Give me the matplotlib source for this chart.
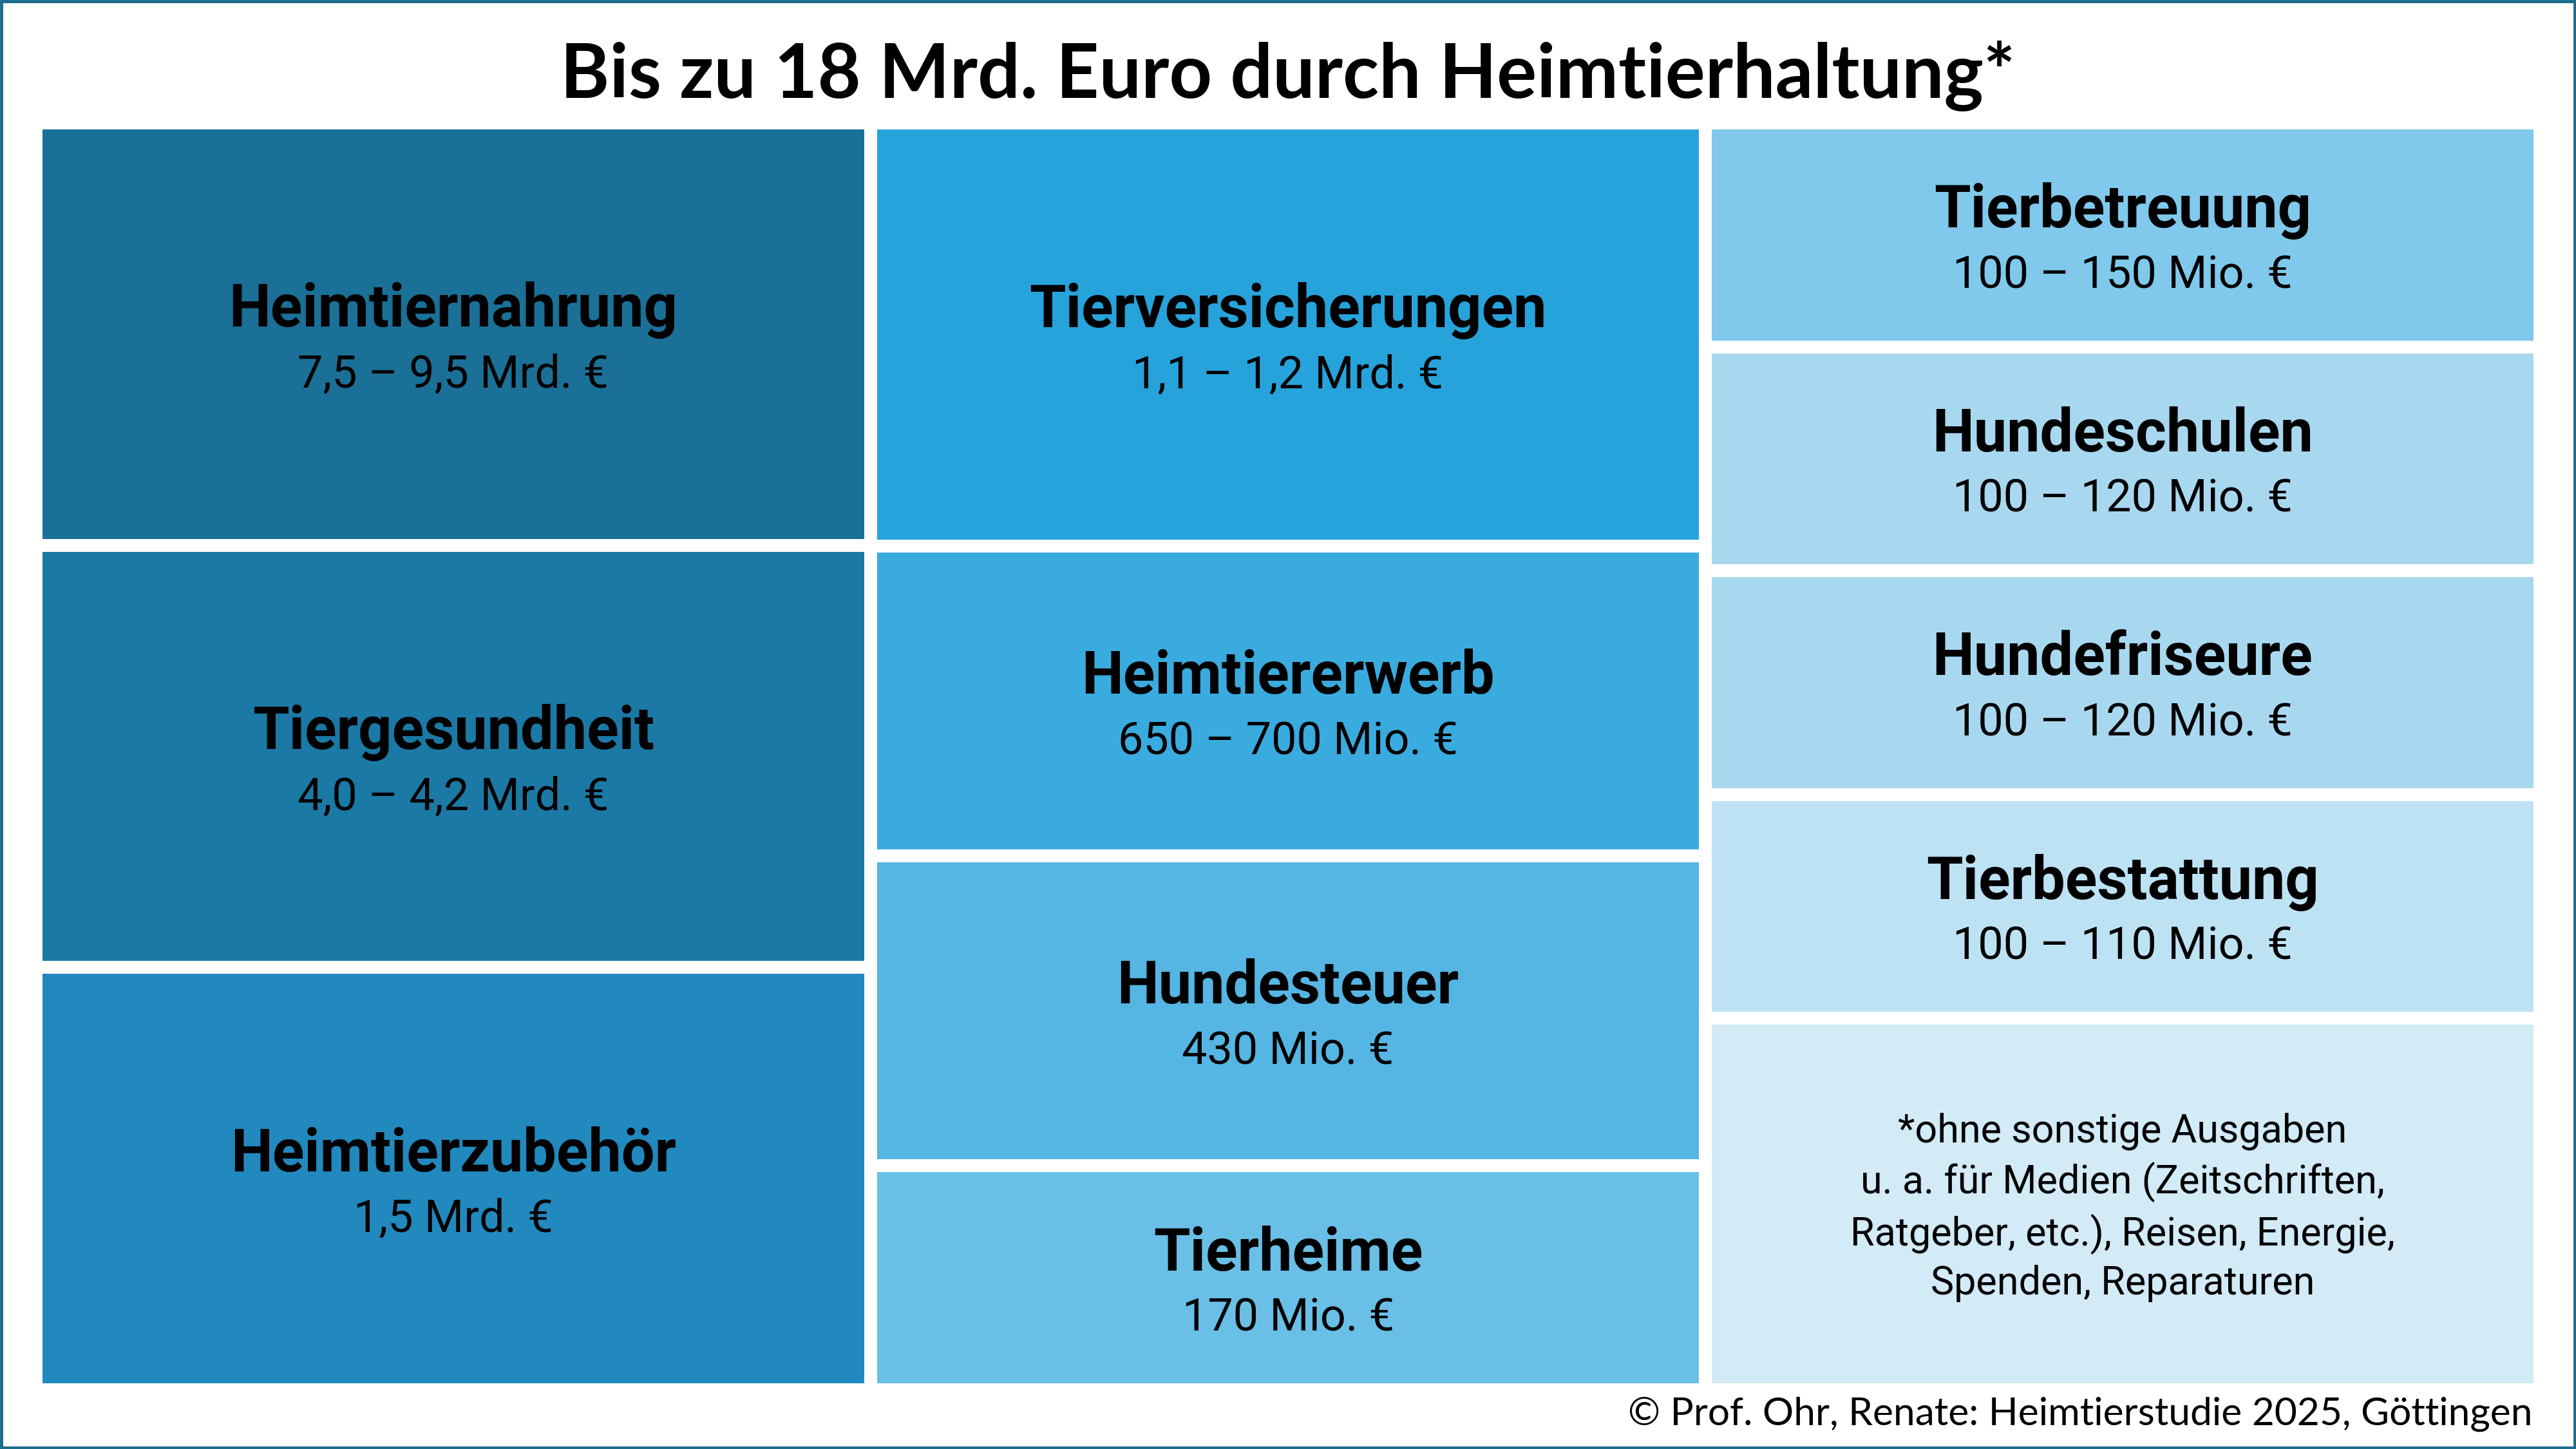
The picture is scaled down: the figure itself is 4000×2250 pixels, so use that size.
import matplotlib.pyplot as plt
from matplotlib.patches import Rectangle

# data
title = "Bis zu 18 Mrd. Euro durch Heimtierhaltung*"
source = "© Prof. Ohr, Renate: Heimtierstudie 2025, Göttingen"

col1_labels = ["Heimtiernahrung", "Tiergesundheit", "Heimtierzubehör"]
col1_values = ["7,5 – 9,5 Mrd. €", "4,0 – 4,2 Mrd. €", "1,5 Mrd. €"]
col1_colors = ["#1a7096", "#1b79a5", "#2189be"]

col2_labels = ["Tierversicherungen", "Heimtiererwerb", "Hundesteuer", "Tierheime"]
col2_values = ["1,1 – 1,2 Mrd. €", "650 – 700 Mio. €", "430 Mio. €", "170 Mio. €"]
col2_colors = ["#27a3dc", "#3aabde", "#55b5e3", "#69bfe6"]

col3_labels = ["Tierbetreuung", "Hundeschulen", "Hundefriseure", "Tierbestattung"]
col3_values = ["100 – 150 Mio. €", "100 – 120 Mio. €", "100 – 120 Mio. €", "100 – 110 Mio. €"]
col3_colors = ["#80c9ec", "#a8d8f0", "#a8d8f0", "#bde2f4"]

note_text = ("*ohne sonstige Ausgaben\nu. a. für Medien (Zeitschriften,\n"
             "Ratgeber, etc.), Reisen, Energie,\nSpenden, Reparaturen")
note_color = "#d3eaf7"

# layout (relative box heights per column)
col_weights = [[1, 1, 1], [1.945, 1.407, 1.407, 1.0], [1, 1, 1, 1, 1.70]]

W, H = 4000, 2250
left, top, bottom = 66, 201, 2148
box_w, gap = 1276, 20

fig = plt.figure(figsize=(40, 22.5), dpi=100)
ax = fig.add_axes([0, 0, 1, 1])
ax.set_xlim(0, W)
ax.set_ylim(H, 0)
ax.axis("off")

ax.add_patch(Rectangle((2, 2), W - 4, H - 4, fill=False, ec="#1c6a8c", lw=3.5))

ax.text(W / 2, 118, title, ha="center", va="center", fontsize=83.5,
        fontweight="bold", family="Lato")
ax.text(3932, 2196, source, ha="right", va="center", fontsize=43.5, family="Lato")

columns = [
    (col1_labels, col1_values, col1_colors),
    (col2_labels, col2_values, col2_colors),
    (col3_labels + [note_text], col3_values + [None], col3_colors + [note_color]),
]

for ci, (labels, values, colors) in enumerate(columns):
    weights = col_weights[ci]
    unit = (bottom - top - gap * (len(weights) - 1)) / sum(weights)
    x = left + ci * (box_w + gap)
    y = top
    for lab, val, c, w in zip(labels, values, colors, weights):
        h = w * unit
        ax.add_patch(Rectangle((x, y), box_w, h, fc=c, ec="none"))
        cx, cy = x + box_w / 2, y + h / 2
        if val is None:
            ax.text(cx, cy + 5, lab, ha="center", va="center", fontsize=44,
                    family="Roboto", linespacing=1.36)
        else:
            ax.text(cx, cy - 37, lab, ha="center", va="center", fontsize=66,
                    fontweight="bold", family="Roboto")
            ax.text(cx, cy + 63, val, ha="center", va="center", fontsize=50.5,
                    family="Roboto")
        y += h + gap

fig.savefig("out.png", dpi=100)
